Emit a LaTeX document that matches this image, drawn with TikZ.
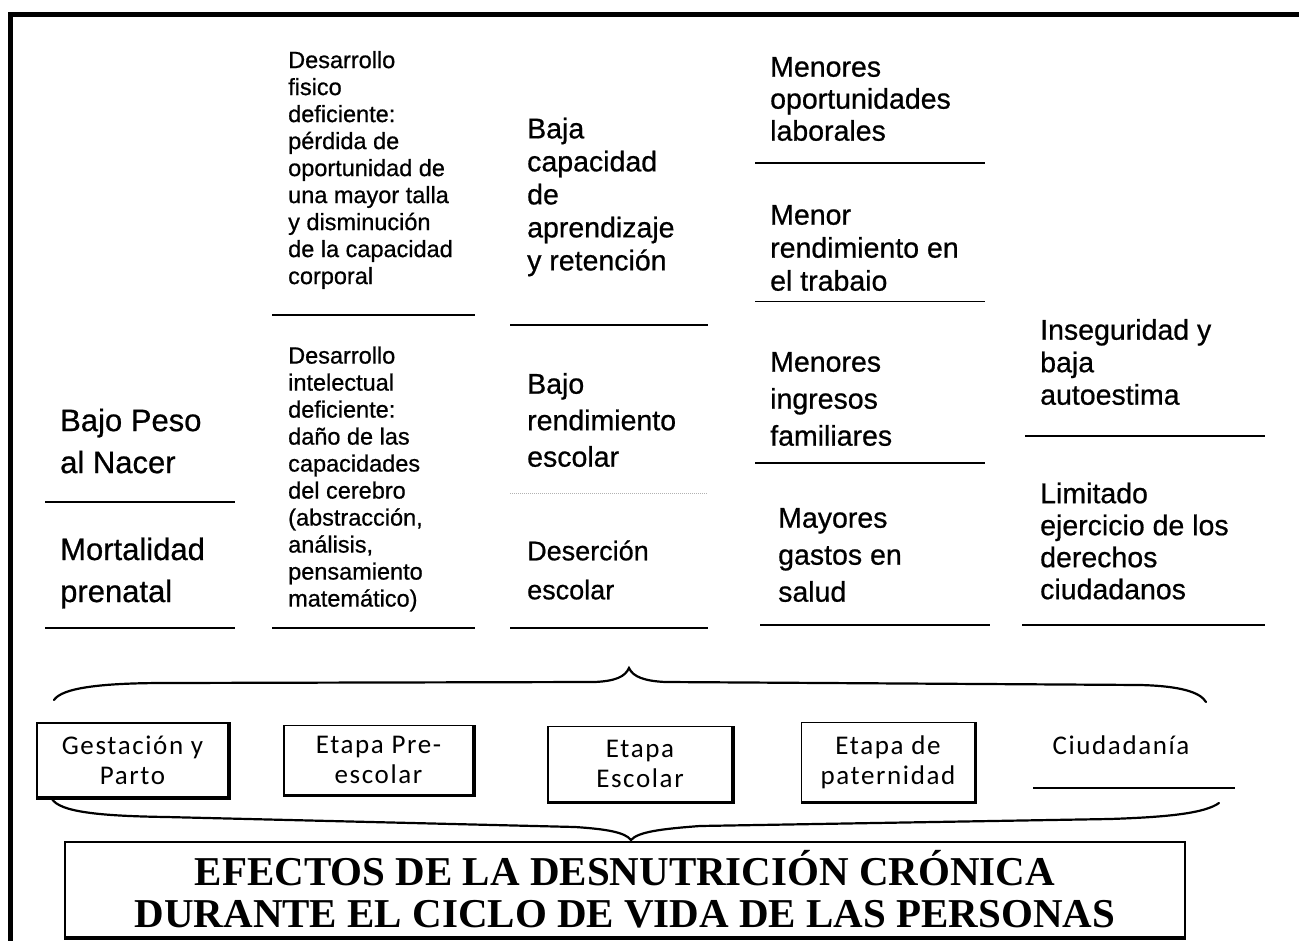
\documentclass[tikz,border=0pt]{standalone}
\usepackage{fontspec}
\setmainfont{Liberation Sans}[UprightFeatures={FakeBold=0.7}]
\newfontfamily\stagefont[LetterSpace=6]{Carlito}
\newfontfamily\titlefont{Liberation Serif}

\begin{document}
\begin{tikzpicture}[x=1pt, y=-1pt,
  txt/.style 2 args={anchor=west, align=left, inner sep=0pt, font=\fontsize{#1}{#2}\selectfont},
  rule/.style={line width=2pt},
  stage/.style={draw, line width=1.5pt, align=center, inner sep=0pt, font=\stagefont\fontsize{27}{30}\selectfont},
  curly/.style={line width=2.2pt, line cap=round}]
  \useasboundingbox (0,0) rectangle (1299,941);
  \draw[line width=5pt] (10,941) -- (10,15) -- (1299,15);

  \node[txt={31}{42}] (peso) at (60,441) {Bajo Peso\\al Nacer};
  \node[txt={31}{42}] (mort) at (60,573) {Mortalidad\\prenatal};
  \draw[rule] (45,502) -- (235,502);
  \draw[rule] (45,628) -- (235,628);

  \node[txt={23.5}{27}] (fisico) at (288,170) {Desarrollo\\fisico\\deficiente:\\pérdida de\\oportunidad de\\una mayor talla\\y disminución\\de la capacidad\\corporal};
  \node[txt={23.5}{27}] (intel) at (288,479) {Desarrollo\\intelectual\\deficiente:\\daño de las\\capacidades\\del cerebro\\(abstracción,\\análisis,\\pensamiento\\matemático)};
  \draw[rule] (272,315) -- (475,315);
  \draw[rule] (272,628) -- (475,628);

  \node[txt={28.5}{33}] (aprend) at (527,197) {Baja\\capacidad\\de\\aprendizaje\\y retención};
  \node[txt={28.5}{36.5}] (rend) at (527,420) {Bajo\\rendimiento\\escolar};
  \node[txt={27}{39}] (deser) at (527,570) {Deserción\\escolar};
  \draw[rule] (510,325) -- (708,325);
  \draw[line width=1pt, gray!60, densely dotted] (510,493) -- (708,493);
  \draw[rule] (510,628) -- (708,628);

  \node[txt={28.5}{32}] (labor) at (770,99) {Menores\\oportunidades\\laborales};
  \node[txt={28.5}{33}] (trab) at (770,248) {Menor\\rendimiento en\\el trabaio};
  \node[txt={28.5}{37}] (ingr) at (770,399) {Menores\\ingresos\\familiares};
  \node[txt={28.5}{37}] (gasto) at (778,555) {Mayores\\gastos en\\salud};
  \draw[rule] (755,163) -- (985,163);
  \draw[line width=1pt] (755,302) -- (985,302);
  \draw[rule] (755,463) -- (985,463);
  \draw[rule] (760,625) -- (990,625);

  \node[txt={28.5}{32.5}] (inseg) at (1040,362) {Inseguridad y\\baja\\autoestima};
  \node[txt={28.5}{32}] (limit) at (1040,541) {Limitado\\ejercicio de los\\derechos\\ciudadanos};
  \draw[rule] (1025,436) -- (1265,436);
  \draw[rule] (1022,625) -- (1265,625);

  \draw[curly] (54,700) .. controls (62,688) and (100,683) .. (166,683) -- (595,682)
    .. controls (615,681) and (625,677) .. (629,668) .. controls (633,677) and (645,681) .. (665,682)
    -- (1140,685) .. controls (1180,686) and (1200,692) .. (1206,702);

  \node[stage, minimum width=191, minimum height=74] (gest) at (132.5,760) {Gestación y\\Parto};
  \node[stage, minimum width=189, minimum height=69] (presc) at (378.5,760) {Etapa Pre-\\escolar};
  \node[stage, minimum width=184, minimum height=75] (esc) at (640,764) {Etapa\\Escolar};
  \node[stage, minimum width=173, minimum height=79] (pat) at (888,762) {Etapa de\\paternidad};
  \node[stage, draw=none] (ciud) at (1121,745) {Ciudadanía};
  \draw[rule] (1033,788) -- (1235,788);
  \draw[line width=3.5pt] (gest.south west) -- (gest.south east) -- (gest.north east);
  \draw[line width=3.5pt] (presc.south west) -- (presc.south east) -- (presc.north east);
  \draw[line width=3.5pt] (esc.south west) -- (esc.south east) -- (esc.north east);
  \draw[line width=3.5pt] (pat.south west) -- (pat.south east) -- (pat.north east);

  \draw[curly] (52,799) .. controls (60,812) and (100,816) .. (166,817) -- (575,827)
    .. controls (605,829) and (625,832) .. (631,840) .. controls (638,832) and (660,829) .. (700,826)
    -- (1110,819) .. controls (1170,817) and (1205,813) .. (1219,803);

  \node[draw, line width=2pt, minimum width=1120, minimum height=95, align=center, inner sep=0pt,
    font=\titlefont\bfseries\fontsize{41}{42}\selectfont] (title) at (625,889.5)
    {EFECTOS DE LA DESNUTRICIÓN CRÓNICA\\DURANTE EL CICLO DE VIDA DE LAS PERSONAS};
  \draw[line width=4pt] (title.south west) -- (title.south east);
\end{tikzpicture}
\end{document}
